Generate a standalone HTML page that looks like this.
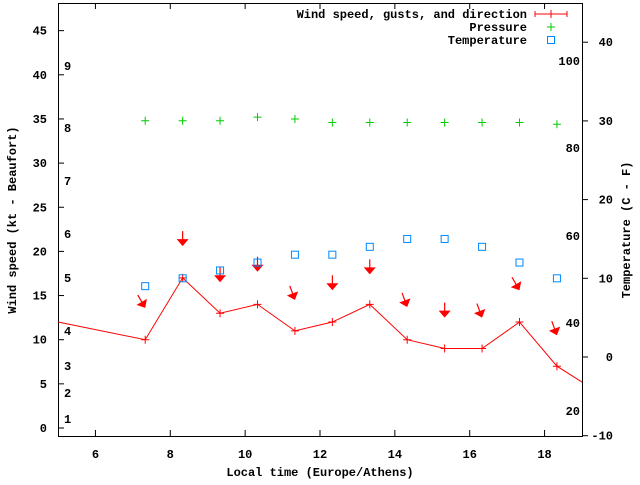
<!DOCTYPE html>
<html><head><meta charset="utf-8"><style>
body{margin:0;background:#fff}
svg text{font-family:"Liberation Mono",monospace;font-size:12px;font-weight:bold;fill:#000}
</style></head><body>
<svg id="chart" width="640" height="480" xmlns="http://www.w3.org/2000/svg">
<g id="axes"></g>
<g id="marks"></g>
<g>
<text x="527" y="18" text-anchor="end">Wind speed, gusts, and direction</text>
<g stroke="#f00" stroke-width="1"><line x1="535" y1="14" x2="567" y2="14"/><line x1="535" y1="11" x2="535" y2="17"/><line x1="567" y1="11" x2="567" y2="17"/><line x1="551" y1="10" x2="551" y2="18"/></g>
<text x="527" y="31" text-anchor="end">Pressure</text>
<g stroke="#0c0"><line x1="547" y1="27" x2="555" y2="27"/><line x1="551" y1="23" x2="551" y2="31"/></g>
<text x="527" y="44" text-anchor="end">Temperature</text>
<rect x="547.5" y="36.5" width="7" height="7" fill="none" stroke="#08f"/>
</g>
<text transform="translate(16,220) rotate(-90)" text-anchor="middle">Wind speed (kt - Beaufort)</text>
<text transform="translate(630,230) rotate(-90)" text-anchor="middle">Temperature (C - F)</text>
<text x="320" y="476" text-anchor="middle">Local time (Europe/Athens)</text>
</svg>
<script>
const times=[7.33,8.33,9.33,10.33,11.33,12.33,13.33,14.33,15.33,16.33,17.33,18.33];
const wind=[10,17,13,14,11,12,14,10,9,9,12,7];
const windLineStart=[5,12];
const windLineEnd=[19,5.2];
const gustTip=[13.6,20.6,16.5,17.7,14.5,15.6,17.4,13.7,12.5,12.5,15.6,10.5];
const dirAngle=[30,0,0,0,20,0,0,20,0,20,30,20];
const pressure=[34.8,34.8,34.8,35.2,35.0,34.6,34.6,34.6,34.6,34.6,34.6,34.4];
const temperature=[9,10,11,12,13,13,14,15,15,14,12,10];
const xTicks=[6,8,10,12,14,16,18];
const yTicks=[0,5,10,15,20,25,30,35,40,45];
const y2Ticks=[-10,0,10,20,30,40];
const beaufort=[[1,419],[2,393],[3,366],[4,331],[5,278],[6,234],[7,181],[8,128],[9,66]];
const fahr=[[20,411],[40,323],[60,236],[80,148],[100,61]];
const L=58,R=582,T=3,B=436;
const X=v=>L+(v-5)*(R-L)/14;
const Y=v=>428-v*8.83;
const Y2=v=>357-v*7.87;
const NS="http://www.w3.org/2000/svg";
function mk(tag,attrs,parent){const e=document.createElementNS(NS,tag);for(const k in attrs)e.setAttribute(k,attrs[k]);parent.appendChild(e);return e;}
const ax=document.getElementById('axes'),mg=document.getElementById('marks');
const fr=mk('rect',{x:L+.5,y:T+.5,width:R-L,height:B-T,fill:'none',stroke:'#000'},ax);


xTicks.forEach(t=>{const x=X(t);
 mk('line',{x1:x,y1:B,x2:x,y2:B-6,stroke:'#000'},ax);mk('line',{x1:x,y1:T,x2:x,y2:T+6,stroke:'#000'},ax);
 const tx=mk('text',{x:x,y:B+22,'text-anchor':'middle'},ax);tx.textContent=t;
 
 });
yTicks.forEach(t=>{const y=Y(t);
 mk('line',{x1:L,y1:y,x2:L+6,y2:y,stroke:'#000'},ax);
 const tx=mk('text',{x:47,y:y+4,'text-anchor':'end'},ax);tx.textContent=t;
 
 });
y2Ticks.forEach(t=>{const y=Y2(t);
 mk('line',{x1:R,y1:y,x2:R+6,y2:y,stroke:'#000'},ax);
 const tx=mk('text',{x:613,y:y+4,'text-anchor':'end'},ax);tx.textContent=t;
 
 });
beaufort.forEach(b=>{const tx=mk('text',{x:64,y:b[1]+4},ax);tx.textContent=b[0];
 
 });
fahr.forEach(f=>{const tx=mk('text',{x:580,y:f[1]+4,'text-anchor':'end'},ax);tx.textContent=f[0];
 
 });
// wind line
let pts=[[X(windLineStart[0]),Y(windLineStart[1])]];
times.forEach((t,i)=>pts.push([X(t),Y(wind[i])]));
pts.push([X(windLineEnd[0]),Y(windLineEnd[1])]);
const pl=mk('polyline',{points:pts.map(p=>p.join(',')).join(' '),fill:'none',stroke:'#f00','stroke-width':1},mg);


times.forEach((t,i)=>{const x=X(t),y=Y(wind[i]);
 const g=mk('path',{d:`M${x-4},${y}h8M${x},${y-4}v8`,stroke:'#f00'},mg);
 
 
 // direction arrow
 const tx=X(t)-0,ty=Y(gustTip[i]),a=dirAngle[i]*Math.PI/180;
 const gg=mk('g',{transform:`translate(${tx},${ty}) rotate(${-dirAngle[i]})`},mg);
 
 
 mk('line',{x1:0,y1:-15,x2:0,y2:-5,stroke:'#f00','stroke-width':1.2},gg);
 mk('path',{d:'M-6,-7L6,-7L0,0Z',fill:'#f00'},gg);
 const p=mk('path',{d:`M${x-4},${Y(pressure[i])}h8M${x},${Y(pressure[i])-4}v8`,stroke:'#0c0'},mg);
 
 
 const r=mk('rect',{x:x-3.5,y:Y2(temperature[i])-3.5,width:7,height:7,fill:'none',stroke:'#08f'},mg);
 
 
});
</script>
</body></html>
